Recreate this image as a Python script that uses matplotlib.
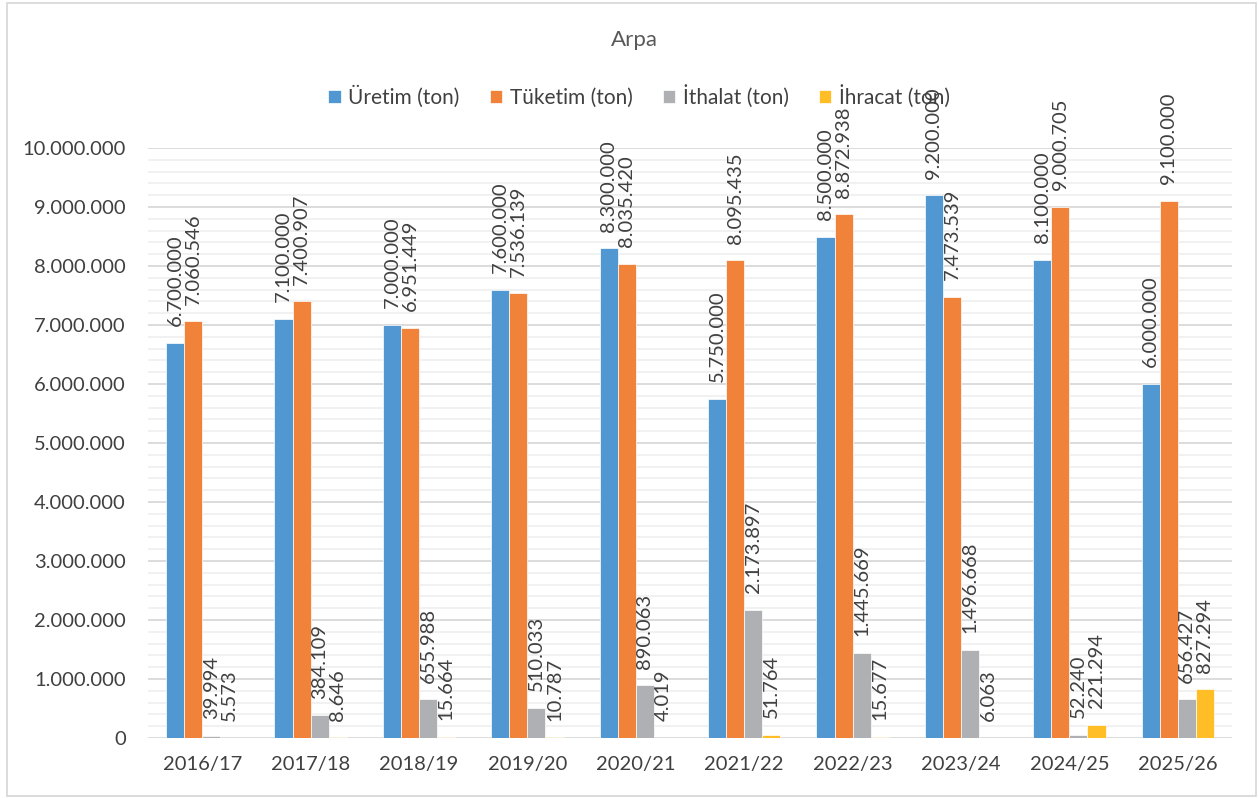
import numpy as np
import matplotlib
matplotlib.use("Agg")
import matplotlib.pyplot as plt
from matplotlib.patches import Rectangle

plt.rcParams['font.family'] = ['Lato', 'DejaVu Sans']

# chart data
seasons = ["2016/17", "2017/18", "2018/19", "2019/20", "2020/21",
           "2021/22", "2022/23", "2023/24", "2024/25", "2025/26"]
uretim = [6700000, 7100000, 7000000, 7600000, 8300000,
          5750000, 8500000, 9200000, 8100000, 6000000]
tuketim = [7060546, 7400907, 6951449, 7536139, 8035420,
           8095435, 8872938, 7473539, 9000705, 9100000]
ithalat = [39994, 384109, 655988, 510033, 890063,
           2173897, 1445669, 1496668, 52240, 656427]
ihracat = [5573, 8646, 15664, 10787, 4019,
           51764, 15677, 6063, 221294, 827294]

series_names = ["Üretim (ton)", "Tüketim (ton)", "İthalat (ton)", "İhracat (ton)"]
colors = ["#5198D3", "#F08239", "#AFB0B3", "#FFBE26"]
text_col = "#404040"


def fmt(v):
    return f"{int(v):,}".replace(",", ".")


W, H = 1259, 798
fig = plt.figure(figsize=(W / 100, H / 100), dpi=100)
ax = fig.add_axes([148 / W, 1 - 738 / H, (1232 - 148) / W, (738 - 148) / H])

x = np.arange(len(seasons))
bw = 1 / 6
all_series = [uretim, tuketim, ithalat, ihracat]

for i, (vals, name, col) in enumerate(zip(all_series, series_names, colors)):
    pos = x + (i - 1.5) * bw
    ax.bar(pos, vals, width=bw, color=col, label=name,
           edgecolor="white", linewidth=0.5, zorder=3)
    # value labels above each bar, rotated
    for p, v in zip(pos, vals):
        ax.annotate(fmt(v), (p, v), xytext=(0, 12), textcoords="offset points",
                    rotation=90, ha="center", va="bottom", fontsize=14.5,
                    color=text_col, annotation_clip=False, zorder=5)

ax.set_xlim(-0.5, len(seasons) - 0.5)
ax.set_ylim(0, 10000000)
ax.set_yticks(np.arange(0, 10000001, 1000000))
ax.set_yticklabels([fmt(v) for v in np.arange(0, 10000001, 1000000)])
ax.set_yticks(np.arange(0, 10000001, 200000), minor=True)
ax.set_xticks(x)
ax.set_xticklabels(seasons)

ax.grid(axis="y", which="minor", color="#F0F0F0", linewidth=1.3, zorder=0)
ax.grid(axis="y", which="major", color="#D9D9D9", linewidth=1.3, zorder=1)
for s in ax.spines.values():
    s.set_visible(False)
ax.tick_params(axis="both", which="both", length=0, labelsize=14.5,
               labelcolor=text_col)
ax.tick_params(axis="x", pad=13)
ax.tick_params(axis="y", pad=16)

fig.text(634 / W, 1 - 40 / H, "Arpa", ha="center", va="center",
         fontsize=16, color="#595959")
fig.legend(loc="center", bbox_to_anchor=(639 / W, 1 - 96 / H), ncol=4,
           frameon=False, handlelength=0.6, handleheight=0.6,
           handletextpad=0.35, columnspacing=1.45, fontsize=15,
           labelcolor=text_col)

fig.patches.append(Rectangle((7 / W, 2 / H), (1256 - 7) / W, (795 - 2) / H,
                             transform=fig.transFigure, fill=False,
                             edgecolor="#D9D9D9", linewidth=1.3))

fig.savefig("out.png", dpi=100)
